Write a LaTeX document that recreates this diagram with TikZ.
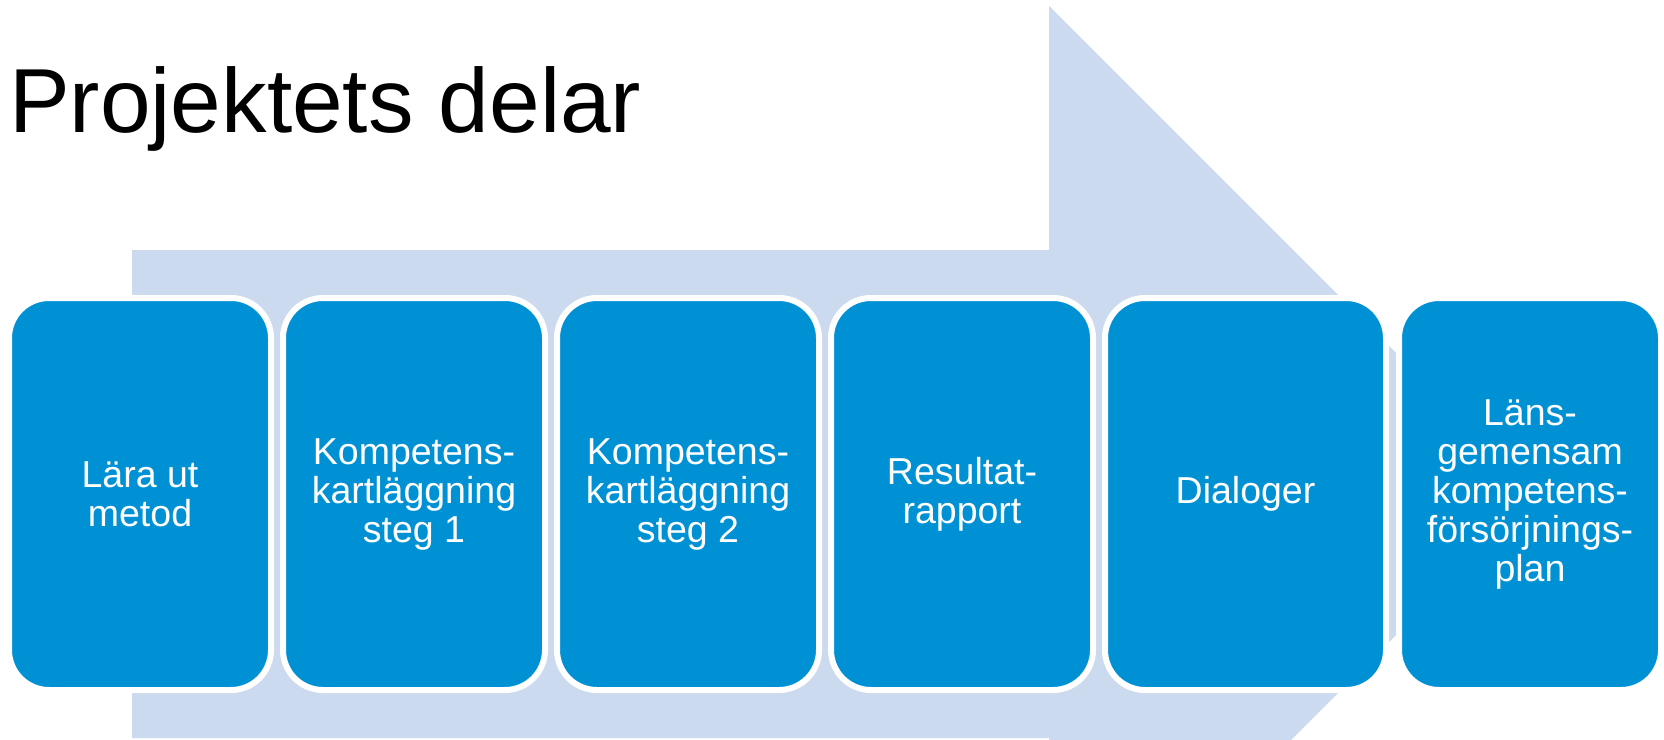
\documentclass[tikz,border=0pt]{standalone}
\usepackage{fontspec}
\setmainfont{Liberation Sans}
\definecolor{boxblue}{RGB}{0,145,213}
\definecolor{arrowblue}{RGB}{203,218,239}
\tikzset{
  stepbox/.style={rectangle, rounded corners=40pt, fill=boxblue, draw=white, line width=6pt,
    minimum height=392pt, text=white, align=center, inner sep=0pt,
    font=\fontsize{37.5}{39}\selectfont},
}
\begin{document}
\begin{tikzpicture}[x=1pt,y=-1pt]
\useasboundingbox (0,0) rectangle (1664,739);
\begin{scope}
\clip (0,0) rectangle (1664,739);
\fill[arrowblue] (132,250) -- (1049,250) -- (1049,6) -- (1537,494) -- (1049,982) -- (1049,738) -- (132,738) -- cycle;
\end{scope}
\node[anchor=base west, inner sep=0pt, font=\fontsize{91}{100}\selectfont] (title) at (9,132) {Projektets delar};
\node[stepbox, minimum width=262pt] (b1) at (140,494) {Lära ut\\metod};
\node[stepbox, minimum width=262pt] (b2) at (414,494) {Kompetens-\\kartläggning\\steg 1};
\node[stepbox, minimum width=262pt] (b3) at (688,494) {Kompetens-\\kartläggning\\steg 2};
\node[stepbox, minimum width=262pt] (b4) at (962,494) {Resultat-\\rapport};
\node[stepbox, minimum width=281pt] (b5) at (1245.5,494) {Dialoger};
\node[stepbox, minimum width=262pt] (b6) at (1530,494) {Läns-\\gemensam\\kompetens-\\försörjnings-\\plan};
\end{tikzpicture}
\end{document}
